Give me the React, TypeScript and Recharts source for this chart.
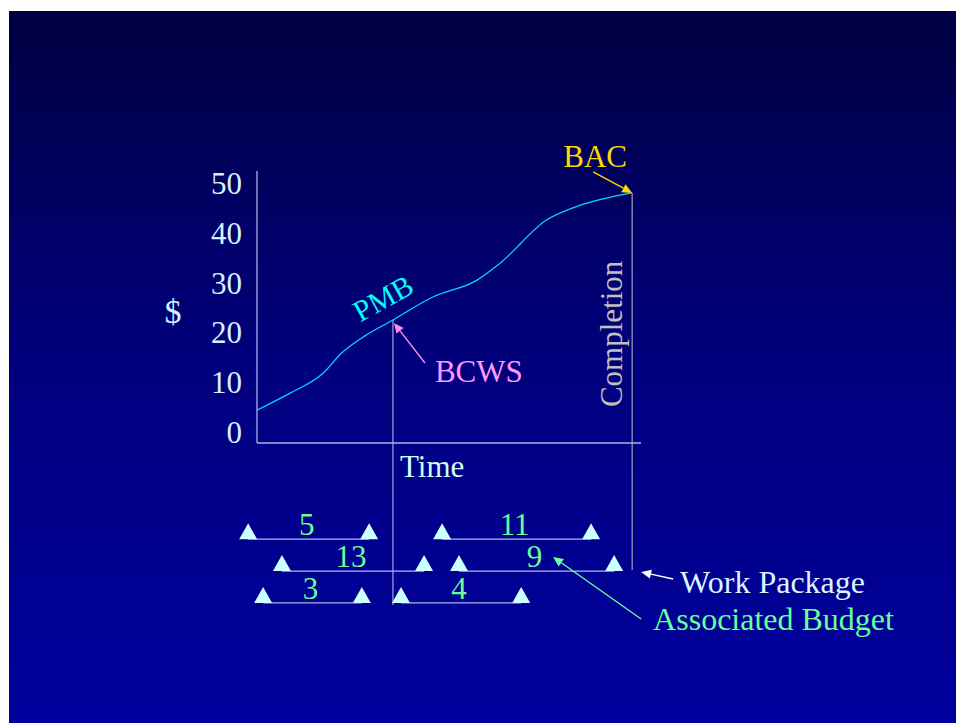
import React from 'react';
import { ComposedChart, Line, XAxis, YAxis, ReferenceLine, ReferenceDot } from 'recharts';

const SERIF = '"Liberation Serif", "Times New Roman", serif';

// Performance measurement baseline: time (% of schedule) vs cumulative $
const timePoints = [0, 8.6, 17.2, 22.1, 28.1, 35.4, 45.8, 57.3, 63.3, 75.5, 82.3, 97.7];
const pmbValues = [4.4, 7.8, 11.8, 15.9, 19.3, 22.5, 27.1, 30.5, 33.9, 42.6, 45.0, 48.0];
const dollarTicks = [0, 10, 20, 30, 40, 50];

const statusDate = 35.4;
const completionDate = 97.7;
const statusLineBottom = -34.7;
const completionLineBottom = -27.7;

// Work packages drawn under the time axis
const packageBudgets = [5, 11, 13, 9, 3, 4];
const packageStarts = [-2.3, 48.2, 6.5, 52.6, 1.6, 37.5];
const packageEnds = [29.2, 87.0, 43.5, 93.0, 27.3, 68.8];
const packageRows = [-21.5, -21.5, -27.9, -27.9, -34.3, -34.3];

const pmbData = timePoints.map((t, i) => ({ t, pmb: pmbValues[i] }));
const bcwsValue = pmbValues[timePoints.indexOf(statusDate)];
const bacValue = pmbValues[pmbValues.length - 1];

const textStyle = { fontFamily: SERIF, fontSize: 31 };
const noteStyle = { fontFamily: SERIF, fontSize: 32 };

const Arrow = ({ x1, y1, x2, y2, color, head = 10 }: any) => {
  const a = Math.atan2(y2 - y1, x2 - x1);
  const w = head * 0.45;
  const bx = x2 - head * Math.cos(a);
  const by = y2 - head * Math.sin(a);
  const pts = [
    [x2, y2],
    [bx + w * Math.sin(a), by - w * Math.cos(a)],
    [bx - w * Math.sin(a), by + w * Math.cos(a)],
  ];
  return (
    <g>
      <line x1={x1} y1={y1} x2={bx} y2={by} stroke={color} strokeWidth={1.4} />
      <polygon points={pts.map((p) => p.join(',')).join(' ')} fill={color} />
    </g>
  );
};

const Milestone = ({ cx, base }: any) => (
  <polygon points={`${cx - 9},${base} ${cx + 9},${base} ${cx},${base - 16}`} fill="#ccffff" />
);

const PackageBar = ({ x1, y1, x2, budget }: any) => (
  <g>
    <line x1={x1} y1={y1} x2={x2} y2={y1} stroke="#a9b6f5" strokeWidth={1.3} />
    <Milestone cx={x1} base={y1} />
    <Milestone cx={x2} base={y1} />
    <text x={(x1 + x2) / 2 - 2} y={y1 - 4} textAnchor="middle" fill="#66ff99" style={textStyle}>
      {budget}
    </text>
  </g>
);

export default function App() {
  return (
    <div style={{ position: 'relative', height: 707 }}>
      <div
        style={{
          position: 'fixed',
          left: 9,
          top: 11,
          width: 947,
          height: 712,
          background: 'linear-gradient(to bottom, #000042 0%, #00007e 50%, #00009e 100%)',
        }}
      >
        <ComposedChart
          width={947}
          height={712}
          data={pmbData}
          margin={{ top: 160, right: 315, bottom: 250, left: 188 }}
        >
          <XAxis
            type="number"
            dataKey="t"
            domain={[0, 100]}
            height={30}
            tick={false}
            tickLine={false}
            axisLine={{ stroke: '#a8b0e8', strokeWidth: 1.3 }}
            label={{
              content: (p: any) => (
                <text x={p.viewBox.x + 143} y={p.viewBox.y + 34} fill="#ccffff" style={textStyle}>
                  Time
                </text>
              ),
            }}
          />
          <YAxis
            type="number"
            domain={[-2.2, 52.4]}
            ticks={dollarTicks}
            width={60}
            tickLine={false}
            tickSize={0}
            tickMargin={15}
            axisLine={{ stroke: '#a8b0e8', strokeWidth: 1.3 }}
            tick={{ fill: '#d6f0ff', fontFamily: SERIF, fontSize: 31 }}
            label={{
              content: (p: any) => (
                <text
                  x={p.viewBox.x - 24}
                  y={p.viewBox.y + 152}
                  textAnchor="middle"
                  fill="#d6f0ff"
                  style={{ fontFamily: SERIF, fontSize: 34 }}
                >
                  $
                </text>
              ),
            }}
          />

          {/* status date and completion date */}
          <ReferenceLine
            segment={[{ x: statusDate, y: bcwsValue }, { x: statusDate, y: statusLineBottom }]}
            stroke="#a0a6d0"
            strokeWidth={1.2}
            ifOverflow="visible"
          />
          <ReferenceLine
            segment={[{ x: completionDate, y: bacValue }, { x: completionDate, y: completionLineBottom }]}
            ifOverflow="visible"
            shape={(p: any) => (
              <g>
                <line x1={p.x1} y1={p.y1} x2={p.x2} y2={p.y2} stroke="#a0a0b8" strokeWidth={1.2} />
                <text
                  transform={`translate(${p.x1 - 10},${p.y1 + 141}) rotate(-90)`}
                  textAnchor="middle"
                  fill="#c0c0c0"
                  style={textStyle}
                >
                  Completion
                </text>
              </g>
            )}
          />

          <Line
            type="monotone"
            dataKey="pmb"
            stroke="#00d8ff"
            strokeWidth={1.3}
            dot={false}
            isAnimationActive={false}
          />

          {/* work packages with their budgets */}
          {packageBudgets.map((b, i) => (
            <ReferenceLine
              key={`wp-${i}`}
              segment={[{ x: packageStarts[i], y: packageRows[i] }, { x: packageEnds[i], y: packageRows[i] }]}
              ifOverflow="visible"
              shape={(p: any) => <PackageBar {...p} budget={b} />}
            />
          ))}

          {/* callouts */}
          <ReferenceDot
            x={statusDate}
            y={bcwsValue}
            ifOverflow="visible"
            shape={(p: any) => (
              <g>
                <text
                  transform={`translate(${p.cx - 10},${p.cy - 22}) rotate(-29)`}
                  textAnchor="middle"
                  dy="0.35em"
                  fill="#00ffff"
                  style={{ fontFamily: SERIF, fontSize: 30 }}
                >
                  PMB
                </text>
                <Arrow x1={p.cx + 32} y1={p.cy + 43} x2={p.cx + 1} y2={p.cy + 3} color="#ff88ee" />
                <text x={p.cx + 42} y={p.cy + 62} fill="#ff99ff" style={textStyle}>
                  BCWS
                </text>
              </g>
            )}
          />
          <ReferenceDot
            x={completionDate}
            y={bacValue}
            ifOverflow="visible"
            shape={(p: any) => (
              <g>
                <Arrow x1={p.cx - 39} y1={p.cy - 21} x2={p.cx} y2={p.cy} color="#ffd700" />
                <text x={p.cx - 37} y={p.cy - 26} textAnchor="middle" fill="#ffd700" style={textStyle}>
                  BAC
                </text>
              </g>
            )}
          />
          <ReferenceDot
            x={packageEnds[3]}
            y={packageRows[3]}
            ifOverflow="visible"
            shape={(p: any) => (
              <g>
                <Arrow x1={p.cx + 59} y1={p.cy + 8} x2={p.cx + 27} y2={p.cy + 1} color="#ffffff" />
                <text x={p.cx + 66} y={p.cy + 22} fill="#ddf4ff" style={noteStyle}>
                  Work Package
                </text>
                <Arrow x1={p.cx + 27} y1={p.cy + 48} x2={p.cx - 61} y2={p.cy - 14} color="#66ff99" />
                <text x={p.cx + 39} y={p.cy + 59} fill="#66ff99" style={noteStyle}>
                  Associated Budget
                </text>
              </g>
            )}
          />
        </ComposedChart>
      </div>
    </div>
  );
}
